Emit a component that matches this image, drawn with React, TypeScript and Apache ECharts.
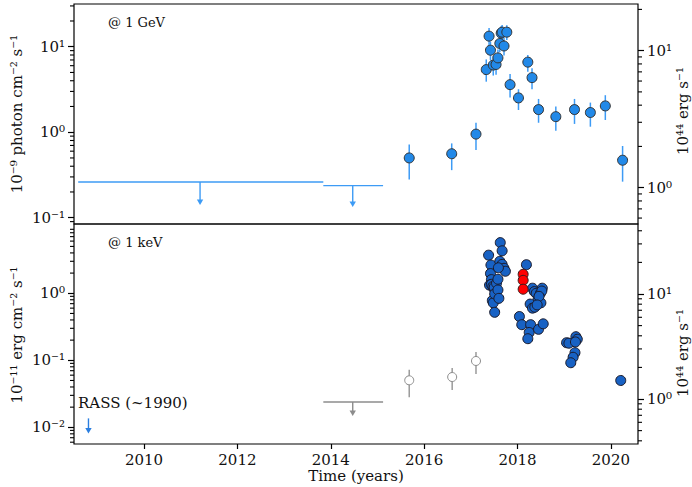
import React, { useEffect, useRef } from "react";
import * as echarts from "echarts";

// ---------- Fermi (1 GeV) light curve ----------
const gammaYears = [2015.68, 2016.59, 2017.11, 2017.33, 2017.39, 2017.42, 2017.48, 2017.54, 2017.58, 2017.62, 2017.65, 2017.67, 2017.71, 2017.77, 2017.84, 2018.02, 2018.22, 2018.31, 2018.45, 2018.82, 2019.22, 2019.56, 2019.88, 2020.25];
const gammaFlux = [0.5, 0.56, 0.95, 5.4, 13.3, 9.1, 6.1, 6.2, 7.4, 10.9, 14.4, 14.8, 10.2, 14.8, 3.6, 2.52, 6.6, 4.35, 1.84, 1.52, 1.84, 1.7, 2.03, 0.47];
const gammaLow = [0.28, 0.36, 0.62, 3.9, 10.4, 7.0, 4.6, 4.7, 5.8, 8.6, 11.6, 12.0, 7.9, 12.0, 2.54, 1.82, 5.1, 3.18, 1.29, 1.04, 1.25, 1.16, 1.39, 0.264];
const gammaHigh = [0.72, 0.74, 1.29, 7.1, 16.6, 11.5, 7.8, 7.9, 9.3, 13.4, 17.5, 18.0, 12.7, 17.8, 4.8, 3.18, 8.0, 5.6, 2.45, 2.0, 2.45, 2.22, 2.71, 0.69];

const gammaLimitStart = [2008.59, 2013.84];
const gammaLimitEnd = [2013.84, 2015.12];
const gammaLimitMid = [2011.2, 2014.47];
const gammaLimitValue = [0.262, 0.237];
const gammaLimitTip = [0.141, 0.133];

// ---------- X-ray (1 keV) light curve ----------
const xrayYears = [
  2017.38, 2017.43, 2017.42, 2017.44, 2017.40, 2017.44, 2017.47, 2017.50, 2017.50, 2017.46, 2017.48, 2017.51, 2017.55, 2017.58, 2017.58, 2017.60, 2017.51, 2017.62, 2017.63, 2017.67, 2017.67, 2017.71, 2017.74, 2017.59,
  2018.19, 2018.32, 2018.36, 2018.40, 2018.49, 2018.53, 2018.52, 2018.44, 2018.50, 2018.46, 2018.27, 2018.32, 2018.37, 2018.42, 2018.04, 2018.09, 2018.28, 2018.25, 2018.22, 2018.45, 2018.55,
  2019.05, 2019.10, 2019.25, 2019.28, 2019.24, 2019.23, 2019.19, 2019.14,
  2020.21,
];
const xrayFlux = [
  3.7, 2.64, 1.97, 1.6, 1.32, 1.36, 1.26, 1.16, 1.23, 0.78, 0.72, 0.98, 1.41, 1.62, 1.12, 0.84, 0.52, 3.0, 5.7, 4.3, 2.7, 2.36, 2.13, 2.4,
  2.67, 1.19, 1.06, 1.0, 1.0, 1.19, 1.08, 0.82, 0.72, 0.9, 0.69, 0.6, 0.62, 0.67, 0.45, 0.34, 0.34, 0.26, 0.21, 0.29, 0.35,
  0.183, 0.18, 0.225, 0.206, 0.188, 0.13, 0.111, 0.092,
  0.05,
];
const xrayErrYears = [2020.21];
const xrayErrLow = [0.043];
const xrayErrHigh = [0.058];

const xrayRedYears = [2018.12, 2018.12, 2018.12];
const xrayRedFlux = [1.92, 1.56, 1.15];

const xrayOpenYears = [2015.68, 2016.6, 2017.11];
const xrayOpenFlux = [0.0503, 0.0563, 0.0977];
const xrayOpenLow = [0.028, 0.036, 0.0625];
const xrayOpenHigh = [0.0724, 0.077, 0.133];

const xrayLimitStart = [2013.84];
const xrayLimitEnd = [2015.12];
const xrayLimitMid = [2014.47];
const xrayLimitValue = [0.0239];
const xrayLimitTip = [0.0148];

const rassYear = [2008.81];
const rassValue = [0.0136];
const rassTip = [0.0081];

// ---------- axes ----------
const xTicks = [2010, 2012, 2014, 2016, 2018, 2020];
const X_MIN = 2008.5;
const X_MAX = 2020.58;
const topLeftRange = [0.0844, 31.6];
const topRightRange = [0.543, 21.9];
const botLeftRange = [0.00564, 10.8];
const botRightRange = [0.373, 46.4];
const topLeftTicks = [0.1, 1, 10];
const topRightTicks = [1, 10];
const botLeftTicks = [0.01, 0.1, 1];
const botRightTicks = [1, 10];

const FONT = "DejaVu Serif";
const TXT = "#111";

const SUP: Record<string, string> = { "0": "⁰", "1": "¹", "2": "²", "3": "³", "4": "⁴", "5": "⁵", "6": "⁶", "7": "⁷", "8": "⁸", "9": "⁹", "-": "⁻" };
const pow10Label = (v: number) => {
  const e = Math.round(Math.log10(v));
  return "10" + String(e).split("").map((c) => SUP[c] || c).join("");
};

const minorValues = (range: number[]) => {
  const out: number[] = [];
  for (let e = -4; e <= 3; e++) {
    for (let k = 2; k <= 9; k++) {
      const v = k * Math.pow(10, e);
      if (v >= range[0] && v <= range[1]) out.push(v);
    }
  }
  return out;
};

const logAxis = (gridIndex: number, position: string, range: number[], ticks: number[]) => ({
  gridIndex,
  type: "log",
  logBase: 10,
  position,
  min: range[0],
  max: range[1],
  axisLine: { show: false },
  splitLine: { show: false },
  axisTick: { show: true, length: 6, customValues: ticks, lineStyle: { color: "#000", width: 1.2 } },
  axisLabel: {
    customValues: ticks,
    formatter: pow10Label,
    fontFamily: FONT,
    fontSize: 15,
    color: TXT,
    margin: 9,
  },
});

const minorTickSeries = (xIdx: number, yIdx: number, range: number[], right: boolean) => ({
  type: "custom",
  xAxisIndex: xIdx,
  yAxisIndex: yIdx,
  clip: false,
  silent: true,
  z: 10,
  data: minorValues(range).map((v) => [right ? X_MAX : X_MIN, v]),
  renderItem: (_p: any, api: any) => {
    const p = api.coord([api.value(0), api.value(1)]);
    const len = 4;
    return {
      type: "line",
      shape: { x1: p[0], y1: p[1], x2: right ? p[0] + len : p[0] - len, y2: p[1] },
      style: { stroke: "#000", lineWidth: 1.1 },
    };
  },
});

const errorBarSeries = (xIdx: number, yIdx: number, xs: number[], lo: number[], hi: number[], color: string) => ({
  type: "custom",
  xAxisIndex: xIdx,
  yAxisIndex: yIdx,
  silent: true,
  z: 2,
  data: xs.map((x, i) => [x, lo[i], hi[i]]),
  renderItem: (_p: any, api: any) => {
    const a = api.coord([api.value(0), api.value(1)]);
    const b = api.coord([api.value(0), api.value(2)]);
    return {
      type: "line",
      shape: { x1: a[0], y1: a[1], x2: b[0], y2: b[1] },
      style: { stroke: color, lineWidth: 1.5 },
    };
  },
});

const limitSeries = (xIdx: number, yIdx: number, x1: number[], x2: number[], xc: number[], y: number[], tip: number[], color: string) => ({
  type: "custom",
  xAxisIndex: xIdx,
  yAxisIndex: yIdx,
  silent: true,
  z: 2,
  data: x1.map((v, i) => [v, x2[i], xc[i], y[i], tip[i]]),
  renderItem: (_p: any, api: any) => {
    const a = api.coord([api.value(0), api.value(3)]);
    const b = api.coord([api.value(1), api.value(3)]);
    const c = api.coord([api.value(2), api.value(3)]);
    const t = api.coord([api.value(2), api.value(4)]);
    const children: any[] = [];
    if (Math.abs(b[0] - a[0]) > 0.5) {
      children.push({ type: "line", shape: { x1: a[0], y1: a[1], x2: b[0], y2: b[1] }, style: { stroke: color, lineWidth: 1.4 } });
    }
    children.push({ type: "line", shape: { x1: c[0], y1: c[1], x2: t[0], y2: t[1] - 4 }, style: { stroke: color, lineWidth: 1.4 } });
    children.push({
      type: "polygon",
      shape: { points: [[t[0] - 3.2, t[1] - 5.5], [t[0] + 3.2, t[1] - 5.5], [t[0], t[1]]] },
      style: { fill: color },
    });
    return { type: "group", children };
  },
});

const scatter = (xIdx: number, yIdx: number, xs: number[], ys: number[], fill: string, border: string, size: number, z: number) => ({
  type: "scatter",
  xAxisIndex: xIdx,
  yAxisIndex: yIdx,
  symbol: "circle",
  symbolSize: size,
  z,
  data: xs.map((x, i) => [x, ys[i]]),
  itemStyle: { color: fill, borderColor: border, borderWidth: 1, opacity: 1 },
});

const rotText = (text: string, x: number, y: number) => ({
  type: "text",
  x,
  y,
  rotation: Math.PI / 2,
  style: { text, fontFamily: FONT, fontSize: 15, fill: TXT, textAlign: "center", textVerticalAlign: "middle" },
});

const plainText = (text: string, x: number, y: number, size: number, align: string) => ({
  type: "text",
  x,
  y,
  style: { text, fontFamily: FONT, fontSize: size, fill: TXT, textAlign: align, textVerticalAlign: "middle" },
});

export default function App() {
  const ref = useRef<HTMLDivElement>(null);
  useEffect(() => {
    document.body.style.margin = "0";
    if (!ref.current) return;
    const chart = echarts.init(ref.current, undefined, { renderer: "svg" });
    const gridBase = { left: 74, right: 54, height: 220, show: true, borderColor: "#000", borderWidth: 1.2, backgroundColor: "transparent" };
    const option: any = {
      animation: false,
      backgroundColor: "#fff",
      grid: [
        { ...gridBase, top: 4 },
        { ...gridBase, top: 224 },
      ],
      xAxis: [
        { gridIndex: 0, type: "value", min: X_MIN, max: X_MAX, axisLine: { show: false }, axisTick: { show: false }, axisLabel: { show: false }, splitLine: { show: false } },
        {
          gridIndex: 1,
          type: "value",
          min: X_MIN,
          max: X_MAX,
          axisLine: { show: false },
          splitLine: { show: false },
          axisTick: { show: true, length: 5, customValues: xTicks, lineStyle: { color: "#000", width: 1.2 } },
          axisLabel: { customValues: xTicks, formatter: (v: number) => String(v), fontFamily: FONT, fontSize: 15, color: TXT, margin: 8 },
        },
      ],
      yAxis: [
        logAxis(0, "left", topLeftRange, topLeftTicks),
        logAxis(0, "right", topRightRange, topRightTicks),
        logAxis(1, "left", botLeftRange, botLeftTicks),
        logAxis(1, "right", botRightRange, botRightTicks),
      ],
      series: [
        minorTickSeries(0, 0, topLeftRange, false),
        minorTickSeries(0, 1, topRightRange, true),
        minorTickSeries(1, 2, botLeftRange, false),
        minorTickSeries(1, 3, botRightRange, true),
        // top panel
        limitSeries(0, 0, gammaLimitStart, gammaLimitEnd, gammaLimitMid, gammaLimitValue, gammaLimitTip, "#3d9bf5"),
        errorBarSeries(0, 0, gammaYears, gammaLow, gammaHigh, "#3d9bf5"),
        scatter(0, 0, gammaYears, gammaFlux, "#2289e8", "#333", 10, 5),
        // bottom panel
        limitSeries(1, 2, xrayLimitStart, xrayLimitEnd, xrayLimitMid, xrayLimitValue, xrayLimitTip, "#8c8c8c"),
        limitSeries(1, 2, rassYear, rassYear, rassYear, rassValue, rassTip, "#2a7ee0"),
        errorBarSeries(1, 2, xrayOpenYears, xrayOpenLow, xrayOpenHigh, "#9a9a9a"),
        errorBarSeries(1, 2, xrayErrYears, xrayErrLow, xrayErrHigh, "#1862c4"),
        scatter(1, 2, xrayOpenYears, xrayOpenFlux, "#ffffff", "#8c8c8c", 9, 5),
        scatter(1, 2, xrayYears, xrayFlux, "#1862c4", "#1a1a2a", 10, 5),
        scatter(1, 2, xrayRedYears, xrayRedFlux, "#ff0000", "#3a1a1a", 10, 6),
      ],
      graphic: [
        plainText("@ 1 GeV", 108, 22, 13, "left"),
        plainText("@ 1 keV", 108, 242, 13, "left"),
        plainText("RASS (~1990)", 78, 403, 15, "left"),
        plainText("Time (years)", 356, 476, 15, "center"),
        rotText("10⁻⁹ photon cm⁻² s⁻¹", 17, 114),
        rotText("10⁻¹¹ erg cm⁻² s⁻¹", 17, 335),
        rotText("10⁴⁴ erg s⁻¹", 683, 111),
        rotText("10⁴⁴ erg s⁻¹", 683, 353),
      ],
    };
    chart.setOption(option);
    return () => chart.dispose();
  }, []);
  return <div ref={ref} style={{ width: 692, height: 487 }} />;
}
